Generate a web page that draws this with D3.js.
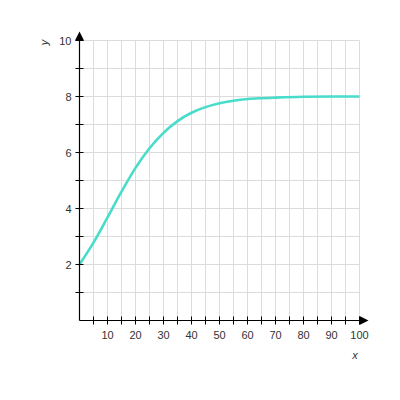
<!DOCTYPE html>
<html>
<head>
<meta charset="utf-8">
<script src="https://cdn.jsdelivr.net/npm/d3@7"></script>
<style>
  body { margin: 0; background: #fff; }
  svg text { font-family: Arial, "Liberation Sans", sans-serif; }
</style>
</head>
<body>
<div id="chart"></div>
<script>
var w = 400;
var h = 400;

// values
var xVals = [0, 5, 10, 15, 20, 25, 30, 35, 40, 45, 50, 55, 60, 65, 70, 80, 90, 100];
var yVals = [2.0, 2.78, 3.68, 4.6, 5.45, 6.15, 6.7, 7.12, 7.42, 7.62, 7.76, 7.85, 7.91, 7.94, 7.96, 7.99, 8.0, 8.0];

var xTickLabels = [10, 20, 30, 40, 50, 60, 70, 80, 90, 100];
var yTickLabels = [2, 4, 6, 8, 10];

var data = xVals.map(function(d, i) { return {x: d, y: yVals[i]}; });

var xScale = d3.scaleLinear().domain([0, 100]).range([79.5, 359.5]);
var yScale = d3.scaleLinear().domain([0, 10]).range([320.5, 40.5]);

var svg = d3.select("#chart").append("svg")
    .attr("width", w)
    .attr("height", h);

// grid
svg.append("g")
    .selectAll("line")
    .data(d3.range(5, 101, 5))
    .enter().append("line")
    .attr("x1", function(d) { return xScale(d); })
    .attr("x2", function(d) { return xScale(d); })
    .attr("y1", yScale(0))
    .attr("y2", yScale(10))
    .attr("stroke", "#dcdcdc")
    .attr("stroke-width", 1);

svg.append("g")
    .selectAll("line")
    .data(d3.range(1, 11))
    .enter().append("line")
    .attr("y1", function(d) { return yScale(d); })
    .attr("y2", function(d) { return yScale(d); })
    .attr("x1", xScale(0))
    .attr("x2", xScale(100))
    .attr("stroke", "#dcdcdc")
    .attr("stroke-width", 1);

// curve
var line = d3.line()
    .x(function(d) { return xScale(d.x); })
    .y(function(d) { return yScale(d.y); })
    .curve(d3.curveMonotoneX);

svg.append("path")
    .datum(data)
    .attr("d", line)
    .attr("fill", "none")
    .attr("stroke", "#48dccb")
    .attr("stroke-width", 2.6);

// axes
var xAxis = d3.axisBottom(xScale)
    .tickValues(d3.range(5, 101, 5))
    .tickSize(0)
    .tickFormat("");

svg.append("g")
    .attr("transform", "translate(0," + yScale(0) + ")")
    .call(xAxis)
    .select(".domain").remove();

// tick marks crossing the axes
svg.append("g")
    .selectAll("line")
    .data(d3.range(5, 101, 5))
    .enter().append("line")
    .attr("x1", function(d) { return xScale(d); })
    .attr("x2", function(d) { return xScale(d); })
    .attr("y1", yScale(0) - 4)
    .attr("y2", yScale(0) + 4)
    .attr("stroke", "#000");

svg.append("g")
    .selectAll("line")
    .data(d3.range(1, 11))
    .enter().append("line")
    .attr("y1", function(d) { return yScale(d); })
    .attr("y2", function(d) { return yScale(d); })
    .attr("x1", xScale(0) - 4)
    .attr("x2", xScale(0) + 4)
    .attr("stroke", "#000");

svg.append("line")
    .attr("x1", xScale(0)).attr("x2", xScale(100) + 2)
    .attr("y1", yScale(0)).attr("y2", yScale(0))
    .attr("stroke", "#000").attr("stroke-width", 1.2);

svg.append("line")
    .attr("x1", xScale(0)).attr("x2", xScale(0))
    .attr("y1", yScale(0)).attr("y2", yScale(10) - 2)
    .attr("stroke", "#000").attr("stroke-width", 1.2);

// arrow heads
svg.append("path")
    .attr("d", "M" + (xScale(100)) + "," + (yScale(0) - 4.5) +
               "L" + (xScale(100) + 9) + "," + yScale(0) +
               "L" + (xScale(100)) + "," + (yScale(0) + 4.5) + "Z")
    .attr("fill", "#000");

svg.append("path")
    .attr("d", "M" + (xScale(0) - 4.5) + "," + yScale(10) +
               "L" + xScale(0) + "," + (yScale(10) - 9) +
               "L" + (xScale(0) + 4.5) + "," + yScale(10) + "Z")
    .attr("fill", "#000");

// tick labels
svg.append("g")
    .selectAll("text")
    .data(xTickLabels)
    .enter().append("text")
    .attr("x", function(d) { return xScale(d); })
    .attr("y", yScale(0) + 18)
    .attr("text-anchor", "middle")
    .attr("font-size", 11)
    .attr("fill", "#333")
    .text(function(d) { return d; });

svg.append("g")
    .selectAll("text")
    .data(yTickLabels)
    .enter().append("text")
    .attr("x", xScale(0) - 8)
    .attr("y", function(d) { return yScale(d) + 4; })
    .attr("text-anchor", "end")
    .attr("font-size", 11)
    .attr("fill", "#333")
    .text(function(d) { return d; });

// axis titles
svg.append("text")
    .attr("transform", "translate(48," + (yScale(10) + 2) + ") rotate(-90)")
    .attr("text-anchor", "middle")
    .attr("font-size", 11)
    .attr("font-style", "italic")
    .attr("fill", "#333")
    .text("y");

svg.append("text")
    .attr("x", 355)
    .attr("y", 359)
    .attr("text-anchor", "middle")
    .attr("font-size", 11)
    .attr("font-style", "italic")
    .attr("fill", "#333")
    .text("x");
</script>
</body>
</html>
